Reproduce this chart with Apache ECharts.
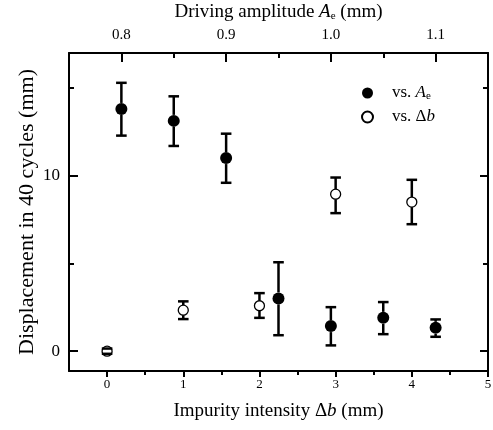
<!DOCTYPE html>
<html>
<head>
<meta charset="utf-8">
<script src="https://cdn.jsdelivr.net/npm/echarts@6/dist/echarts.min.js"></script>
<style>html,body{margin:0;padding:0;background:#fff}#c{width:493px;height:430px}</style>
</head>
<body>
<div id="c"></div>
<script>
// ---- data ----
const aeValues   = [0.80, 0.85, 0.90, 0.95, 1.00, 1.05, 1.10];
const dispVsAe   = [13.81, 13.13, 11.01, 3.01, 1.43, 1.90, 1.33];
const errHighAe  = [15.30, 14.53, 12.40, 5.07, 2.51, 2.80, 1.81];
const errLowAe   = [12.29, 11.70, 9.60, 0.91, 0.33, 0.97, 0.82];

const dbValues   = [0, 1, 2, 3, 4];
const dispVsDb   = [0, 2.34, 2.59, 8.95, 8.50];
const errHighDb  = [0.15, 2.84, 3.31, 9.90, 9.77];
const errLowDb   = [-0.15, 1.83, 1.90, 7.87, 7.24];

// ---- tick values ----
const bottomTicks = [0, 1, 2, 3, 4, 5];
const bottomMinor = [0.5, 1.5, 2.5, 3.5, 4.5];
const topTicks    = [0.8, 0.9, 1.0, 1.1];
const topMinor    = [0.85, 0.95, 1.05];
const yTicks      = [0, 10];
const yMinor      = [5, 15];

const FONT = 'Liberation Serif';
const BLACK = '#000';

const pts = (xs, ys) => xs.map((x, i) => [x, ys[i]]);
const errs = (xs, lo, hi, mid) => xs.map((x, i) => [x, lo[i], hi[i], mid[i]]);

function makeErrRender(radius) {
  return function (params, api) {
    const x = api.value(0), lo = api.value(1), hi = api.value(2), mid = api.value(3);
    const pLo = api.coord([x, lo]);
    const pHi = api.coord([x, hi]);
    const pM = api.coord([x, mid]);
    const cw = 5.3;
    const st = { stroke: BLACK, lineWidth: 2.5 };
    const ch = [
      { type: 'line', shape: { x1: pHi[0] - cw, y1: pHi[1], x2: pHi[0] + cw, y2: pHi[1] }, style: st },
      { type: 'line', shape: { x1: pLo[0] - cw, y1: pLo[1], x2: pLo[0] + cw, y2: pLo[1] }, style: st }
    ];
    if (pHi[1] < pM[1] - radius) {
      ch.push({ type: 'line', shape: { x1: pM[0], y1: pHi[1], x2: pM[0], y2: pM[1] - radius }, style: st });
    }
    if (pLo[1] > pM[1] + radius) {
      ch.push({ type: 'line', shape: { x1: pM[0], y1: pM[1] + radius, x2: pM[0], y2: pLo[1] }, style: st });
    }
    return { type: 'group', children: ch };
  };
}

const rich = {
  i: { fontFamily: FONT, fontStyle: 'italic', fontSize: 19, color: BLACK, lineHeight: 20 },
  s: { fontFamily: FONT, fontSize: 11, color: BLACK, lineHeight: 6, verticalAlign: 'bottom' }
};
const legRich = {
  t: { fontFamily: FONT, fontSize: 17, color: BLACK, lineHeight: 18 },
  i: { fontFamily: FONT, fontStyle: 'italic', fontSize: 17, color: BLACK, lineHeight: 18 },
  s: { fontFamily: FONT, fontSize: 11, color: BLACK, lineHeight: 6, verticalAlign: 'bottom' }
};

const lineStyle = { color: BLACK, width: 2 };

const option = {
  animation: false,
  backgroundColor: '#fff',
  grid: { left: 69, right: 5, top: 53, bottom: 59, containLabel: false, outerBoundsMode: 'none' },
  legend: {
    orient: 'vertical', left: 356, top: 79, itemWidth: 11, itemHeight: 11, itemGap: 6,
    data: ['vs. Ae', 'vs. Δb'],
    textStyle: { fontFamily: FONT, fontSize: 17, color: BLACK, lineHeight: 18, padding: [0, 0, 0, 14], rich: legRich },
    formatter: function (n) {
      return n === 'vs. Ae' ? '{t|vs. }{i|A}{s|e}' : '{t|vs. Δ}{i|b}';
    }
  },
  xAxis: [
    {
      type: 'value', position: 'bottom', min: -0.5, max: 5,
      axisLine: { show: true, onZero: false, lineStyle: lineStyle },
      axisTick: { show: true, inside: false, length: 6, customValues: bottomTicks, lineStyle: { color: BLACK, width: 2 } },
      axisLabel: { customValues: bottomTicks, fontFamily: FONT, fontSize: 13, color: BLACK, margin: 7 },
      splitLine: { show: false },
      name: 'Impurity intensity Δ{i|b} (mm)', nameLocation: 'middle', nameGap: 30, nameMoveOverlap: false,
      nameTextStyle: { fontFamily: FONT, fontSize: 19, lineHeight: 20, color: BLACK, rich: rich }
    },
    {
      type: 'value', position: 'bottom', min: -0.5, max: 5,
      axisLine: { show: false, onZero: false },
      axisTick: { show: true, inside: false, length: 4, customValues: bottomMinor, lineStyle: { color: BLACK, width: 2 } },
      axisLabel: { show: false }, splitLine: { show: false }
    },
    {
      type: 'value', position: 'top', min: 0.75, max: 1.15,
      axisLine: { show: true, onZero: false, lineStyle: lineStyle },
      axisTick: { show: true, inside: true, length: 9, customValues: topTicks, lineStyle: { color: BLACK, width: 2 } },
      axisLabel: { customValues: topTicks, fontFamily: FONT, fontSize: 15, color: BLACK, margin: 10,
        formatter: v => Number(v).toFixed(1) },
      splitLine: { show: false },
      name: 'Driving amplitude {i|A}{s|e} (mm)', nameLocation: 'middle', nameGap: 31, nameMoveOverlap: false,
      nameTextStyle: { fontFamily: FONT, fontSize: 19, lineHeight: 20, color: BLACK, rich: rich }
    },
    {
      type: 'value', position: 'top', min: 0.75, max: 1.15,
      axisLine: { show: false, onZero: false },
      axisTick: { show: true, inside: true, length: 5, customValues: topMinor, lineStyle: { color: BLACK, width: 2 } },
      axisLabel: { show: false }, splitLine: { show: false }
    }
  ],
  yAxis: [
    {
      type: 'value', position: 'left', min: -1.13, max: 17,
      axisLine: { show: true, onZero: false, lineStyle: lineStyle },
      axisTick: { show: true, inside: true, length: 9, customValues: yTicks, lineStyle: { color: BLACK, width: 2 } },
      axisLabel: { customValues: yTicks, fontFamily: FONT, fontSize: 17, color: BLACK, margin: 9 },
      splitLine: { show: false },
      name: 'Displacement in 40 cycles (mm)', nameLocation: 'middle', nameGap: 31, nameMoveOverlap: false,
      nameTextStyle: { fontFamily: FONT, fontSize: 22, color: BLACK }
    },
    {
      type: 'value', position: 'left', min: -1.13, max: 17,
      axisLine: { show: false, onZero: false },
      axisTick: { show: true, inside: true, length: 5, customValues: yMinor, lineStyle: { color: BLACK, width: 2 } },
      axisLabel: { show: false }, splitLine: { show: false }
    },
    {
      type: 'value', position: 'right', min: -1.13, max: 17,
      axisLine: { show: true, onZero: false, lineStyle: lineStyle },
      axisTick: { show: true, inside: true, length: 8, customValues: yTicks, lineStyle: { color: BLACK, width: 2 } },
      axisLabel: { show: false }, splitLine: { show: false }
    },
    {
      type: 'value', position: 'right', min: -1.13, max: 17,
      axisLine: { show: false, onZero: false },
      axisTick: { show: true, inside: true, length: 5, customValues: yMinor, lineStyle: { color: BLACK, width: 2 } },
      axisLabel: { show: false }, splitLine: { show: false }
    }
  ],
  series: [
    {
      name: 'vs. Ae', type: 'scatter', xAxisIndex: 2, yAxisIndex: 0,
      data: pts(aeValues, dispVsAe), symbol: 'circle', symbolSize: 12, z: 2,
      itemStyle: { color: BLACK, opacity: 1 }
    },
    {
      name: 'vs. Δb', type: 'scatter', xAxisIndex: 0, yAxisIndex: 0,
      data: pts(dbValues, dispVsDb), symbol: 'circle', symbolSize: 10, z: 2,
      itemStyle: { color: '#fff', borderColor: BLACK, borderWidth: 1.3, opacity: 1 }
    },
    {
      name: 'errAe', type: 'custom', xAxisIndex: 2, yAxisIndex: 0, z: 3,
      data: errs(aeValues, errLowAe, errHighAe, dispVsAe),
      encode: { x: 0, y: [1, 2] },
      renderItem: makeErrRender(6)
    },
    {
      name: 'errDb', type: 'custom', xAxisIndex: 0, yAxisIndex: 0, z: 3,
      data: errs(dbValues, errLowDb, errHighDb, dispVsDb),
      encode: { x: 0, y: [1, 2] },
      renderItem: makeErrRender(5)
    }
  ]
};

const chart = echarts.init(document.getElementById('c'), null, { renderer: 'canvas' });
chart.setOption(option);
</script>
</body>
</html>
